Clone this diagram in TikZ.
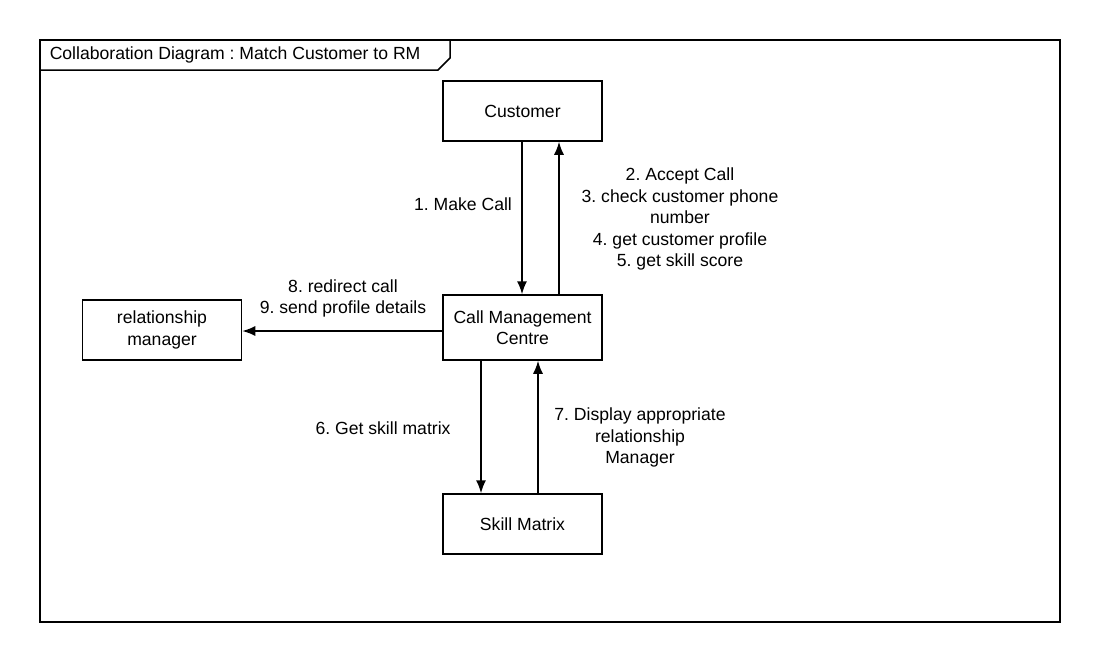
\documentclass[tikz,border=0pt]{standalone}
\usepackage{fontspec}
\setmainfont{Liberation Sans}
\usetikzlibrary{arrows.meta}

\begin{document}
\frenchspacing
\begin{tikzpicture}[x=1pt,y=-1pt,line width=1.5pt,
  every node/.style={font=\fontsize{17.6}{21.5}\selectfont,align=center},
  obj/.style={draw,minimum width=159pt,minimum height=60pt,inner sep=0pt},
  msg/.style={-{Latex[length=13pt,width=10pt]}}]
\useasboundingbox (0,0) rectangle (1100,662);
% frame
\draw (40,40) rectangle (1060,622);
\draw (40,70) -- (438,70) -- (450,58) -- (450,40);
\node[anchor=west,inner sep=0pt] (title) at (49,55) {Collaboration Diagram : Match Customer to RM};

\node[obj] (cust) at (522.5,111) {Customer};
\node[obj,minimum height=65pt] (cmc) at (522.5,327.5) {Call Management\\Centre};
\node[obj] (rm) at (162,330) {relationship\\manager};
\node[obj] (skill) at (522.5,524) {Skill Matrix};

\draw[msg] ([xshift=-0.5pt]cust.south) -- ([xshift=-0.5pt]cmc.north);
\draw[msg] ([xshift=36.5pt]cmc.north) -- ([xshift=36.5pt]cust.south);
\draw[msg] ([yshift=-3.5pt]cmc.west) -- ([yshift=-3.5pt]cmc.west -| rm.east);
\draw[msg] ([xshift=-41.5pt]cmc.south) -- ([xshift=-41.5pt]skill.north);
\draw[msg] ([xshift=15.5pt]skill.north) -- ([xshift=15.5pt]cmc.south);

\node (l1) at (463,204) {1. Make Call};
\node (l2) at (680,219) {2. Accept Call\\3. check customer phone\\number\\4. get customer profile\\5. get skill score};
\node (l8) at (343,298.5) {8. redirect call\\9. send profile details};
\node (l6) at (383,428) {6. Get skill matrix};
\node (l7) at (640,437.5) {7. Display appropriate\\relationship\\Manager};
\end{tikzpicture}
\end{document}
